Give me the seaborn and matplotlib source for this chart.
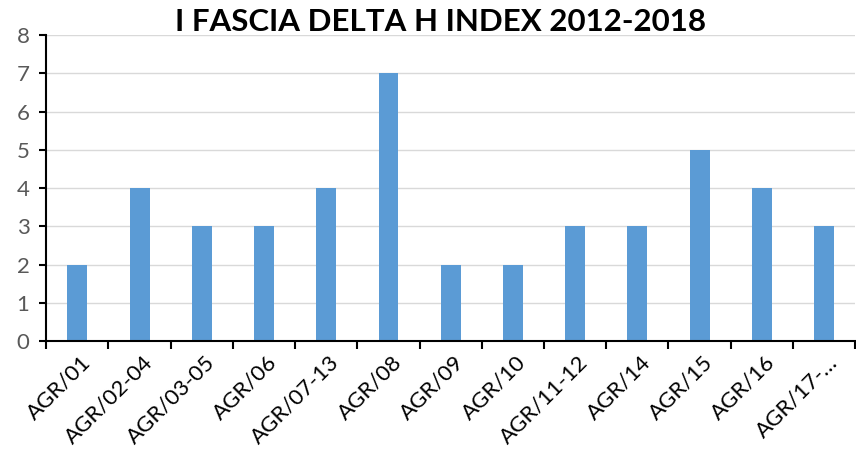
import matplotlib
matplotlib.use("Agg")
import matplotlib.pyplot as plt
import seaborn as sns
import pandas as pd
import numpy as np

categories = ["AGR/01", "AGR/02-04", "AGR/03-05", "AGR/06", "AGR/07-13", "AGR/08",
              "AGR/09", "AGR/10", "AGR/11-12", "AGR/14", "AGR/15", "AGR/16", "AGR/17-\u2026"]
values = [2, 4, 3, 3, 4, 7, 2, 2, 3, 3, 5, 4, 3]

sns.set_style("white")
plt.rcParams['font.family'] = ['Lato', 'DejaVu Sans']

df = pd.DataFrame({"cat": categories, "val": values})

fig = plt.figure(figsize=(8.56, 4.5), dpi=100)
ax = fig.add_axes([0.054, 0.242, 0.945, 0.680])
sns.barplot(data=df, x="cat", y="val", color="#5B9BD5", width=0.32, saturation=1,
            linewidth=0, ax=ax)

ax.set_ylim(0, 8)
ax.set_xlim(-0.5, len(categories) - 0.5)
ax.set_yticks(range(0, 9))
ax.yaxis.grid(True, color="#D9D9D9", linewidth=1)
ax.set_axisbelow(True)
ax.set_xlabel("")
ax.set_ylabel("")

for s in ["top", "right"]:
    ax.spines[s].set_visible(False)
for s in ["left", "bottom"]:
    ax.spines[s].set_color("black")
    ax.spines[s].set_linewidth(1.5)

# category boundary ticks like Excel
ax.set_xticks(np.arange(-0.5, len(categories), 1), minor=True)
ax.tick_params(axis="x", which="minor", length=6, width=1.5, color="black", direction="out", bottom=True)
ax.tick_params(axis="x", which="major", length=0, pad=10)
ax.tick_params(axis="y", length=5, width=1.5, color="black", direction="out", left=True,
               labelsize=16, labelcolor="#595959", pad=7)
ax.set_xticks(range(len(categories)))
ax.set_xticklabels(categories, rotation=45, ha="right", va="center", rotation_mode="anchor",
                   fontsize=16, color="black")
for lbl in ax.get_xticklabels():
    lbl.set_transform(lbl.get_transform() + matplotlib.transforms.ScaledTranslation(0.1, -0.04, fig.dpi_scale_trans))

fig.text(0.515, 0.952, "I FASCIA DELTA H INDEX 2012-2018", ha="center", va="center",
         fontsize=22.5, fontweight="bold", color="black")

fig.savefig("out.png", dpi=100)
